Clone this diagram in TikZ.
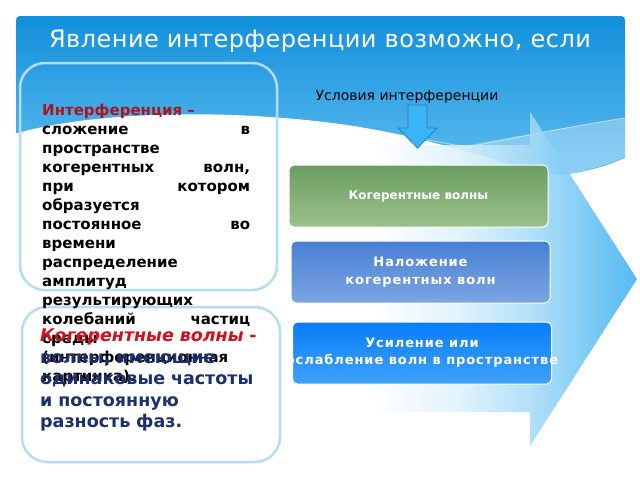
\documentclass[tikz,border=0pt]{standalone}
\usepackage{fontspec}
\setmainfont{DejaVu Sans}
\definecolor{hdtop}{HTML}{1290DC}
\definecolor{hdbot}{HTML}{62BEF0}
\definecolor{arrb}{HTML}{36AEF0}
\definecolor{sarr}{HTML}{3AB6F4}
\definecolor{sarrd}{HTML}{2A7CB8}
\definecolor{gtop}{HTML}{6B9E60}
\definecolor{gbot}{HTML}{9BC08C}
\definecolor{btop}{HTML}{4880D4}
\definecolor{bbot}{HTML}{7DA5E1}
\definecolor{ctop}{HTML}{087DFA}
\definecolor{cbot}{HTML}{40A2F8}
\definecolor{lborder}{HTML}{B4DCF4}
\definecolor{ired}{HTML}{B0121C}
\definecolor{cred}{HTML}{D4101C}
\definecolor{dblue}{HTML}{1C2F6E}
\pgfdeclarehorizontalshading{arrsh}{100bp}{color(0bp)=(white); color(25bp)=(white); color(38bp)=(white); color(50bp)=(white!82!arrb); color(60bp)=(white!55!arrb); color(75bp)=(arrb); color(100bp)=(arrb)}
\tikzset{
  cbox/.style={rounded corners=5pt, draw=white, line width=1pt, minimum width=259pt, minimum height=62pt, inner sep=0pt},
  ctext/.style={text=white, align=center, inner sep=0pt},
  lbox/.style={draw=lborder, line width=2.5pt, rounded corners=25pt, inner sep=0pt},
}
\begin{document}
\begin{tikzpicture}[x=1pt,y=-1pt]
\useasboundingbox (0,0) rectangle (640,480);
\fill[white] (0,0) rectangle (640,480);
% header
\path[top color=hdtop, bottom color=hdbot, rounded corners=4pt] (16,16) rectangle (625,180);
\fill[white] (14,134) .. controls (90,112) and (220,108) .. (340,124) .. controls (440,138) and (510,168) .. (560,175) .. controls (590,172) and (612,164) .. (627,157) -- (627,182) -- (14,182) -- cycle;
\fill[white, opacity=.3] (430,152) .. controls (500,140) and (570,126) .. (625,118) -- (625,157) .. controls (605,165) and (585,172) .. (560,175) .. controls (520,170) and (470,162) .. (430,152) -- cycle;
\draw[white, opacity=.55, line width=.8pt] (250,117) .. controls (350,124) and (430,140) .. (480,150);
\draw[white, opacity=.55, line width=.8pt] (400,160) .. controls (480,145) and (560,128) .. (625,118);
% big arrow
\shade[shading=arrsh, fill opacity=.85] (285,145) -- (530,145) -- (530,112) -- (637,279) -- (530,446) -- (530,412) -- (285,412) -- cycle;
% title
\node[text=white, font=\fontsize{24}{28}\selectfont\addfontfeatures{LetterSpace=2}, inner sep=0pt] (title) at (320,41) {Явление интерференции возможно, если};
% conditions label and small arrow
\node[font=\fontsize{14}{16}\selectfont, inner sep=0pt] (cond) at (407,97) {Условия интерференции};
\filldraw[fill=sarr, draw=sarrd, line width=.8pt] (408,105) -- (427,105) -- (427,128) -- (437,128) -- (417.5,148) -- (398,128) -- (408,128) -- cycle;
% colored boxes
\node[cbox, top color=gtop, bottom color=gbot] (b1) at (418.5,196) {};
\node[ctext, font=\fontsize{12}{18}\selectfont\bfseries] (t1) at (b1) {Когерентные волны};
\node[cbox, top color=btop, bottom color=bbot] (b2) at (420.5,272) {};
\node[ctext, font=\fontsize{13}{18}\selectfont\bfseries\addfontfeatures{LetterSpace=7}] (t2) at (b2) {Наложение\\когерентных волн};
\node[cbox, top color=ctop, bottom color=cbot] (b3) at (422,353) {};
\node[ctext, font=\fontsize{13}{17}\selectfont\bfseries\addfontfeatures{LetterSpace=7}] (t3) at (b3) {Усиление или\\ослабление волн в пространстве};
% left boxes
\node[lbox, minimum width=257pt, minimum height=227pt] (L1) at (148.5,176.5) {};
\node[lbox, minimum width=258pt, minimum height=155pt] (L2) at (151,384.5) {};
% paragraph
\node[anchor=north west, inner sep=0pt, text width=208pt, align=left, font=\fontsize{15}{19}\selectfont\bfseries] (P1) at (42,103.5) {{\color{ired}Интерференция –}\\
сложение\hfill в\\
пространстве\\
когерентных\hfill волн,\\
при\hfill котором\\
образуется\\
постоянное\hfill во\\
времени\\
распределение\\
амплитуд\\
результирующих\\
колебаний\hfill частиц\\
среды\\
(интерференционная\\
картинка).};
\node[anchor=north west, inner sep=0pt, text width=232pt, align=left, text=dblue, font=\fontsize{17.5}{21.5}\selectfont\bfseries] (P2) at (40,329) {{\color{cred}\itshape Когерентные волны} {\color{cred}-}\\
волны, имеющие\\
одинаковые частоты\\
и постоянную\\
разность фаз.};
\end{tikzpicture}
\end{document}
